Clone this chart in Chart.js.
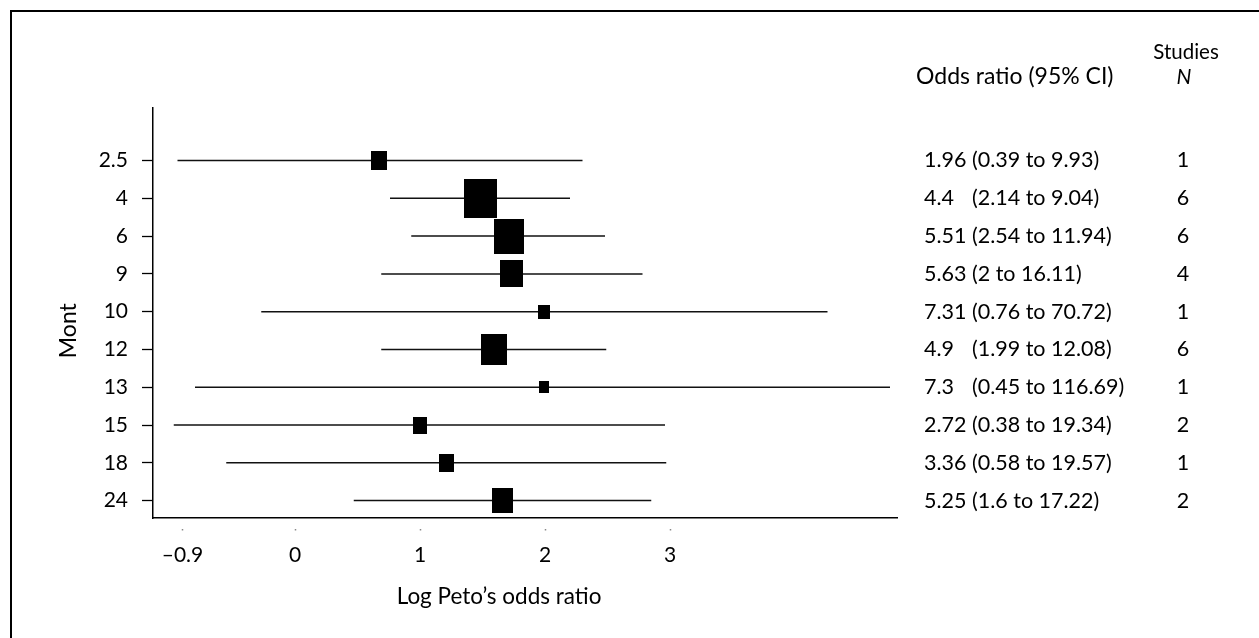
<!DOCTYPE html>
<html>
<head>
<meta charset="utf-8">
<script src="https://cdn.jsdelivr.net/npm/chart.js@4.4.1/dist/chart.umd.min.js"></script>
<style>
  html, body { margin: 0; padding: 0; background: #fff; }
  #wrap { position: relative; width: 1259px; height: 638px; overflow: hidden; }
  #frame { position: absolute; left: 10px; top: 10px; width: 1400px; height: 800px;
           border-left: 2.5px solid #000; border-top: 2.5px solid #000; }
  #c { position: absolute; left: 0; top: 0; }
</style>
</head>
<body>
<div id="wrap">
  <div id="frame"></div>
  <canvas id="c" width="1259" height="638"></canvas>
</div>
<script>
// follow-up month for each row
const months = ['2.5', '4', '6', '9', '10', '12', '13', '15', '18', '24'];
// log Peto's odds ratio with 95% CI limits
const logOR   = [0.67, 1.48, 1.71, 1.73, 1.99, 1.59, 1.99, 1.00, 1.21, 1.66];
const logLow  = [-0.94, 0.76, 0.93, 0.69, -0.27, 0.69, -0.80, -0.97, -0.55, 0.47];
const logHigh = [2.30, 2.20, 2.48, 2.78, 4.26, 2.49, 4.76, 2.96, 2.97, 2.85];
// relative study weight (box size)
const weights = [16, 33, 30, 23, 12, 26, 10, 14, 15, 21];
// printed table
const orText = ['1.96', '4.4', '5.51', '5.63', '7.31', '4.9', '7.3', '2.72', '3.36', '5.25'];
const ciText = ['(0.39 to 9.93)', '(2.14 to 9.04)', '(2.54 to 11.94)', '(2 to 16.11)',
                '(0.76 to 70.72)', '(1.99 to 12.08)', '(0.45 to 116.69)', '(0.38 to 19.34)',
                '(0.58 to 19.57)', '(1.6 to 17.22)'];
const studiesN = [1, 6, 6, 4, 1, 6, 1, 2, 1, 2];
const xTicks = [-0.9, 0, 1, 2, 3];

const FONT = 'Lato';
const tickFont = { family: FONT, size: 21 };
const titleFont = { family: FONT, size: 22.5 };
const nbsp = n => '\u00a0'.repeat(n);

// filled boxes, a bit taller than wide as in the original
const boxes = weights.map(w => {
    const c = document.createElement('canvas');
    c.width = w;
    c.height = Math.round(w * 1.18);
    const g = c.getContext('2d');
    g.fillStyle = '#000';
    g.fillRect(0, 0, c.width, c.height);
    return c;
});

const ciSets = months.map((m, i) => ({
    label: 'CI ' + m,
    data: [{ x: logLow[i], y: i }, { x: logHigh[i], y: i }],
    showLine: true,
    borderColor: '#111',
    borderWidth: 1.5,
    pointRadius: 0,
    order: 1
}));

const estSet = {
    label: 'Odds ratio',
    data: logOR.map((v, i) => ({ x: v, y: i })),
    pointStyle: boxes,
    pointRadius: 10,
    order: 0
};

// odds ratio table on the right
const tablePlugin = {
    id: 'oddsTable',
    afterDraw(chart) {
        const ctx = chart.ctx;
        const ys = chart.scales.y;
        ctx.save();
        ctx.fillStyle = '#000';
        ctx.textBaseline = 'middle';
        ctx.font = `23px ${FONT}`;
        ctx.textAlign = 'left';
        ctx.fillText('Odds ratio (95% CI)', 916, 77);
        ctx.textAlign = 'center';
        ctx.font = `20.5px ${FONT}`;
        ctx.fillText('Studies', 1186, 52);
        ctx.font = `italic 21px ${FONT}`;
        ctx.fillText('N', 1184, 77);

        ctx.font = `21.5px ${FONT}`;
        const x0 = 924;
        const ciX = x0 + ctx.measureText('0.00 ').width;
        months.forEach((m, i) => {
            const y = ys.getPixelForValue(i);
            ctx.textAlign = 'left';
            ctx.fillText(orText[i], x0, y);
            ctx.fillText(ciText[i], ciX, y);
            ctx.textAlign = 'center';
            ctx.fillText(String(studiesN[i]), 1183, y);
        });
        ctx.restore();
    }
};

new Chart(document.getElementById('c'), {
    type: 'scatter',
    data: { datasets: [...ciSets, estSet] },
    options: {
        responsive: false,
        animation: false,
        layout: { padding: { left: 0, top: 108, right: 362, bottom: 0 } },
        plugins: { legend: { display: false }, tooltip: { enabled: false } },
        scales: {
            x: {
                type: 'linear',
                min: -1.136,
                max: 4.816,
                afterBuildTicks: s => { s.ticks = xTicks.map(v => ({ value: v })); },
                afterFit: s => { s.height = 120; },
                border: { display: true, color: '#000', width: 1.5 },
                grid: {
                    drawOnChartArea: false,
                    tickLength: 14,
                    color: '#888',
                    tickWidth: 1.5,
                    tickBorderDash: [1.5, 20],
                    tickBorderDashOffset: 11
                },
                ticks: {
                    font: tickFont,
                    color: '#000',
                    padding: 11,
                    maxRotation: 0,
                    autoSkip: false,
                    callback: v => (v < 0 ? '\u2013' + Math.abs(v) : String(v))
                },
                title: {
                    display: true,
                    // trailing spaces nudge the title left, as in the original
                    text: 'Log Peto\u2019s odds ratio' + nbsp(9),
                    font: titleFont,
                    color: '#000',
                    padding: { top: 28, bottom: 28 }
                }
            },
            y: {
                type: 'linear',
                reverse: true,
                min: -1.39,
                max: 9.46,
                afterBuildTicks: s => { s.ticks = months.map((m, i) => ({ value: i })); },
                afterFit: s => { s.width = 153; },
                border: { display: true, color: '#000', width: 1.5 },
                grid: { drawOnChartArea: false, tickLength: 11, color: '#000', tickWidth: 1.3 },
                ticks: {
                    font: tickFont,
                    color: '#000',
                    padding: 14,
                    autoSkip: false,
                    callback: v => months[v]
                },
                title: {
                    display: true,
                    text: 'Mont' + nbsp(6),
                    font: { family: FONT, size: 23 },
                    color: '#000',
                    padding: { top: 55, bottom: 55 }
                }
            }
        }
    },
    plugins: [tablePlugin]
});
</script>
</body>
</html>
